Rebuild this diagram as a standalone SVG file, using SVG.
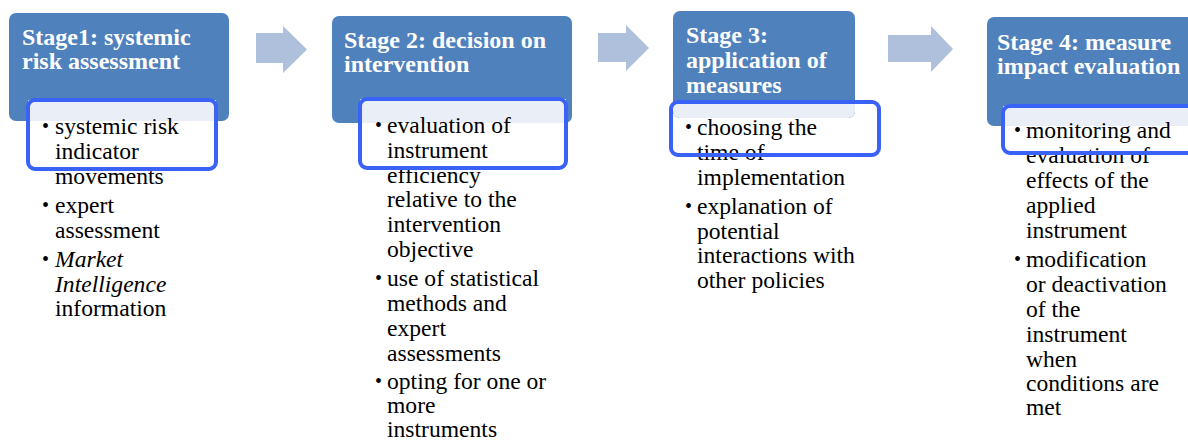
<svg xmlns="http://www.w3.org/2000/svg" width="1188" height="441" viewBox="0 0 1188 441">
<style>
.parent{fill:#4F81BD}
.light{fill:#EAEFF7}
.hl{fill:none;stroke:#3A62F7;stroke-width:4}
.arrow{fill:#AFC0DD}
</style>
<defs>
<clipPath id="c1"><rect x="9" y="13" width="220" height="108" rx="7"/></clipPath>
<clipPath id="c2"><rect x="332" y="16" width="240" height="107" rx="7"/></clipPath>
<clipPath id="c3"><rect x="673" y="11" width="182" height="107" rx="7"/></clipPath>
<clipPath id="c4"><rect x="987" y="17" width="240" height="109" rx="7"/></clipPath>
</defs>
<rect width="1188" height="441" fill="#FFFFFF"/>

<g id="connectors">
<polygon class="arrow" points="256,33 283,33 283,26 307,49.5 283,73 283,63 256,63"/>
<polygon class="arrow" points="598,33 626,33 626,25 649,48 626,71 626,62 598,62"/>
<polygon class="arrow" points="888,35 931,35 931,26 953,49 931,72 931,62 888,62"/>
</g>

<g id="stage1">
<rect class="parent" x="9" y="13" width="220" height="108" rx="7"/>
<rect class="light" x="28" y="100" width="188" height="69" clip-path="url(#c1)"/>
<text x="22" y="45" font-family="Liberation Serif" font-weight="bold" font-size="24" fill="#FFFFFF">Stage1: systemic</text>
<text x="22" y="69" font-family="Liberation Serif" font-weight="bold" font-size="24" fill="#FFFFFF">risk assessment</text>
<text x="42" y="133" font-family="Liberation Serif" font-size="20">•</text>
<text x="55" y="134" font-family="Liberation Serif" font-size="23.6">systemic risk</text>
<text x="55" y="159" font-family="Liberation Serif" font-size="23.6">indicator</text>
<text x="55" y="184" font-family="Liberation Serif" font-size="23.6">movements</text>
<text x="42" y="212" font-family="Liberation Serif" font-size="20">•</text>
<text x="55" y="213" font-family="Liberation Serif" font-size="23.6">expert</text>
<text x="55" y="238" font-family="Liberation Serif" font-size="23.6">assessment</text>
<text x="42" y="266" font-family="Liberation Serif" font-size="20">•</text>
<text x="55" y="267" font-family="Liberation Serif" font-size="23.6" font-style="italic">Market</text>
<text x="55" y="292" font-family="Liberation Serif" font-size="23.6" font-style="italic">Intelligence</text>
<text x="55" y="316" font-family="Liberation Serif" font-size="23.6">information</text>
<rect class="hl" x="28" y="100" width="188" height="69" rx="7"/>
</g>

<g id="stage2">
<rect class="parent" x="332" y="16" width="240" height="107" rx="7"/>
<rect class="light" x="360" y="99" width="206" height="69" clip-path="url(#c2)"/>
<text x="344" y="48" font-family="Liberation Serif" font-weight="bold" font-size="24" fill="#FFFFFF">Stage 2: decision on</text>
<text x="344" y="72" font-family="Liberation Serif" font-weight="bold" font-size="24" fill="#FFFFFF">intervention</text>
<text x="375" y="132" font-family="Liberation Serif" font-size="20">•</text>
<text x="387" y="133" font-family="Liberation Serif" font-size="23.6">evaluation of</text>
<text x="387" y="158" font-family="Liberation Serif" font-size="23.6">instrument</text>
<text x="387" y="183" font-family="Liberation Serif" font-size="23.6">efficiency</text>
<text x="387" y="207" font-family="Liberation Serif" font-size="23.6">relative to the</text>
<text x="387" y="232" font-family="Liberation Serif" font-size="23.6">intervention</text>
<text x="387" y="257" font-family="Liberation Serif" font-size="23.6">objective</text>
<text x="375" y="285" font-family="Liberation Serif" font-size="20">•</text>
<text x="387" y="286" font-family="Liberation Serif" font-size="23.6">use of statistical</text>
<text x="387" y="311" font-family="Liberation Serif" font-size="23.6">methods and</text>
<text x="387" y="336" font-family="Liberation Serif" font-size="23.6">expert</text>
<text x="387" y="361" font-family="Liberation Serif" font-size="23.6">assessments</text>
<text x="375" y="388" font-family="Liberation Serif" font-size="20">•</text>
<text x="387" y="389" font-family="Liberation Serif" font-size="23.6">opting for one or</text>
<text x="387" y="413" font-family="Liberation Serif" font-size="23.6">more</text>
<text x="387" y="437" font-family="Liberation Serif" font-size="23.6">instruments</text>
<rect class="hl" x="360" y="99" width="206" height="69" rx="7"/>
</g>

<g id="stage3">
<rect class="parent" x="673" y="11" width="182" height="107" rx="7"/>
<rect class="light" x="671" y="102" width="208" height="53" clip-path="url(#c3)"/>
<text x="686" y="43" font-family="Liberation Serif" font-weight="bold" font-size="24" fill="#FFFFFF">Stage 3:</text>
<text x="686" y="68" font-family="Liberation Serif" font-weight="bold" font-size="24" fill="#FFFFFF">application of</text>
<text x="686" y="93" font-family="Liberation Serif" font-weight="bold" font-size="24" fill="#FFFFFF">measures</text>
<text x="685" y="134" font-family="Liberation Serif" font-size="20">•</text>
<text x="697" y="135" font-family="Liberation Serif" font-size="23.6">choosing the</text>
<text x="697" y="160" font-family="Liberation Serif" font-size="23.6">time of</text>
<text x="697" y="185" font-family="Liberation Serif" font-size="23.6">implementation</text>
<text x="685" y="213" font-family="Liberation Serif" font-size="20">•</text>
<text x="697" y="214" font-family="Liberation Serif" font-size="23.6">explanation of</text>
<text x="697" y="239" font-family="Liberation Serif" font-size="23.6">potential</text>
<text x="697" y="263" font-family="Liberation Serif" font-size="23.6">interactions with</text>
<text x="697" y="288" font-family="Liberation Serif" font-size="23.6">other policies</text>
<rect class="hl" x="671" y="102" width="208" height="53" rx="7"/>
</g>

<g id="stage4">
<rect class="parent" x="987" y="17" width="240" height="109" rx="7"/>
<rect class="light" x="1003" y="106" width="220" height="47" clip-path="url(#c4)"/>
<text x="997" y="50" font-family="Liberation Serif" font-weight="bold" font-size="24" fill="#FFFFFF">Stage 4: measure</text>
<text x="997" y="74" font-family="Liberation Serif" font-weight="bold" font-size="24" fill="#FFFFFF">impact evaluation</text>
<text x="1014" y="137" font-family="Liberation Serif" font-size="20">•</text>
<text x="1026" y="138" font-family="Liberation Serif" font-size="23.6">monitoring and</text>
<text x="1026" y="163" font-family="Liberation Serif" font-size="23.6">evaluation of</text>
<text x="1026" y="188" font-family="Liberation Serif" font-size="23.6">effects of the</text>
<text x="1026" y="213" font-family="Liberation Serif" font-size="23.6">applied</text>
<text x="1026" y="238" font-family="Liberation Serif" font-size="23.6">instrument</text>
<text x="1014" y="266" font-family="Liberation Serif" font-size="20">•</text>
<text x="1026" y="267" font-family="Liberation Serif" font-size="23.6">modification</text>
<text x="1026" y="292" font-family="Liberation Serif" font-size="23.6">or deactivation</text>
<text x="1026" y="317" font-family="Liberation Serif" font-size="23.6">of the</text>
<text x="1026" y="342" font-family="Liberation Serif" font-size="23.6">instrument</text>
<text x="1026" y="367" font-family="Liberation Serif" font-size="23.6">when</text>
<text x="1026" y="391" font-family="Liberation Serif" font-size="23.6">conditions are</text>
<text x="1026" y="415" font-family="Liberation Serif" font-size="23.6">met</text>
<rect class="hl" x="1003" y="106" width="220" height="47" rx="7"/>
</g>
</svg>
